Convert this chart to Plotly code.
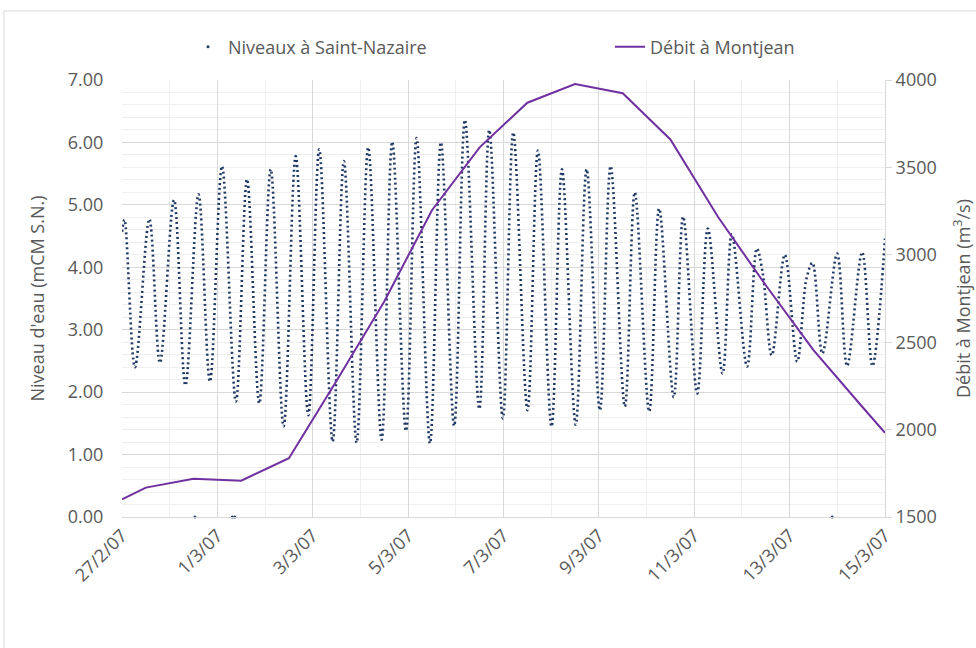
import plotly.graph_objects as go

# ---- Data ----
# Tide level at Saint-Nazaire: successive high / low waters (m CM S.N.)
tide_time = [
    "2007-02-27 00:00", "2007-02-27 01:15", "2007-02-27 06:30", "2007-02-27 13:45", "2007-02-27 19:05",
    "2007-02-28 02:10", "2007-02-28 07:55", "2007-02-28 14:30", "2007-02-28 20:15",
    "2007-03-01 02:20", "2007-03-01 09:20", "2007-03-01 14:55", "2007-03-01 21:05",
    "2007-03-02 02:50", "2007-03-02 09:20", "2007-03-02 15:25", "2007-03-02 21:45",
    "2007-03-03 03:15", "2007-03-03 10:00", "2007-03-03 15:40", "2007-03-03 22:05",
    "2007-03-04 03:55", "2007-03-04 10:40", "2007-03-04 16:00", "2007-03-04 22:55",
    "2007-03-05 04:15", "2007-03-05 11:00", "2007-03-05 16:30", "2007-03-05 23:10",
    "2007-03-06 04:35", "2007-03-06 11:50", "2007-03-06 16:50", "2007-03-06 23:40",
    "2007-03-07 04:55", "2007-03-07 12:05", "2007-03-07 17:20",
    "2007-03-08 00:10", "2007-03-08 05:25", "2007-03-08 12:20", "2007-03-08 17:50",
    "2007-03-09 00:30", "2007-03-09 05:55", "2007-03-09 13:05", "2007-03-09 18:05",
    "2007-03-10 01:20", "2007-03-10 06:20", "2007-03-10 13:40", "2007-03-10 18:25",
    "2007-03-11 01:30", "2007-03-11 06:50", "2007-03-11 14:15", "2007-03-11 18:55",
    "2007-03-12 02:35", "2007-03-12 07:30", "2007-03-12 10:30", "2007-03-12 15:00", "2007-03-12 21:35",
    "2007-03-13 03:50", "2007-03-13 08:30", "2007-03-13 11:30", "2007-03-13 16:30", "2007-03-13 23:55",
    "2007-03-14 04:55", "2007-03-14 12:30", "2007-03-14 17:40", "2007-03-15 00:00",
]
tide_level = [
    4.57, 4.76, 2.40, 4.77, 2.47,
    5.08, 2.11, 5.17, 2.17,
    5.62, 1.85, 5.41, 1.82,
    5.57, 1.45, 5.78, 1.63,
    5.89, 1.21, 5.70, 1.19,
    5.92, 1.24, 6.01, 1.38,
    6.07, 1.18, 6.00, 1.46,
    6.36, 1.73, 6.20, 1.58,
    6.16, 1.71, 5.87,
    1.45, 5.57, 1.48, 5.57,
    1.71, 5.62, 1.77, 5.20,
    1.69, 4.94, 1.92, 4.81,
    1.98, 4.62, 2.30, 4.53,
    2.41, 4.30, 3.90, 2.59, 4.20,
    2.49, 3.82, 4.07, 2.62, 4.22,
    2.42, 4.24, 2.42, 4.46,
]
# isolated zero readings (gaps in the record)
zero_time = ["2007-02-28 12:40", "2007-03-01 07:30", "2007-03-01 08:45", "2007-03-13 21:25"]
zero_level = [0.0, 0.0, 0.0, 0.0]

# River flow at Montjean (m3/s)
flow_time = [
    "2007-02-27 00:00", "2007-02-27 12:00", "2007-02-28 12:00", "2007-03-01 12:00",
    "2007-03-02 12:00", "2007-03-03 12:00", "2007-03-04 12:00", "2007-03-05 12:00",
    "2007-03-06 12:00", "2007-03-07 12:00", "2007-03-08 12:00", "2007-03-09 12:00",
    "2007-03-10 12:00", "2007-03-11 12:00", "2007-03-12 12:00", "2007-03-13 12:00",
    "2007-03-14 12:00", "2007-03-15 00:00",
]
flow_value = [
    1601, 1668, 1719, 1708,
    1836, 2280, 2733, 3255,
    3615, 3870, 3977, 3924,
    3660, 3216, 2826, 2455,
    2138, 1982,
]

left_ticks = [0, 1, 2, 3, 4, 5, 6, 7]
right_ticks = [1500, 2000, 2500, 3000, 3500, 4000]

NAVY = "#1F3864"
PURPLE = "#7030A0"
GRAY = "#595959"
FONT = "Open Sans"
FS = 18

fig = go.Figure()

fig.add_trace(go.Scatter(
    x=tide_time, y=tide_level, mode="lines",
    line=dict(color=NAVY, width=2.6, shape="spline", smoothing=1.0, dash="2px,3px"),
    name="Niveaux à Saint-Nazaire", legendgroup="tide", showlegend=False,
    yaxis="y",
))
fig.add_trace(go.Scatter(
    x=zero_time, y=zero_level, mode="markers",
    marker=dict(color=NAVY, size=3),
    name="Niveaux à Saint-Nazaire", legendgroup="tide", showlegend=True,
    legend="legend", yaxis="y", cliponaxis=False,
))
fig.add_trace(go.Scatter(
    x=flow_time, y=flow_value, mode="lines",
    line=dict(color=PURPLE, width=2),
    name="Débit à Montjean", yaxis="y2", legend="legend2",
))

legend_common = dict(
    orientation="h", xref="container", yref="container",
    y=0.9275, xanchor="left", yanchor="middle",
    font=dict(size=FS, color=GRAY, family=FONT), itemsizing="trace",
    bgcolor="rgba(0,0,0,0)", borderwidth=0,
)

fig.update_layout(
    width=976, height=648,
    margin=dict(l=122, r=91, t=80, b=131, autoexpand=False),
    paper_bgcolor="white", plot_bgcolor="white",
    font=dict(family=FONT, color=GRAY, size=FS),
    showlegend=True,
    legend=dict(x=188 / 976, **legend_common),
    legend2=dict(x=610 / 976, **legend_common),
    xaxis=dict(
        type="date", range=["2007-02-27", "2007-03-15"],
        tick0="2007-02-27", dtick=2 * 86400000, tickformat="%-d/%-m/%y",
        tickangle=-45, tickfont=dict(size=FS, color=GRAY),
        showgrid=True, gridcolor="#D9D9D9", gridwidth=1,
        minor=dict(dtick=86400000, showgrid=True, gridcolor="#EFEFEF"),
        showline=True, linecolor="#D9D9D9", linewidth=1,
        zeroline=False, ticks="", automargin=False,
    ),
    yaxis=dict(
        range=[0, 7], tickvals=left_ticks, tickformat=".2f",
        tickfont=dict(size=FS, color=GRAY),
        showgrid=True, gridcolor="#D9D9D9", gridwidth=1,
        minor=dict(dtick=0.2, showgrid=True, gridcolor="#EFEFEF"),
        zeroline=False, showline=False,
        ticks="outside", ticklen=14, tickcolor="rgba(0,0,0,0)",
        title=dict(text="Niveau d'eau (mCM S.N.)", font=dict(size=FS, color=GRAY), standoff=18),
        automargin=False,
    ),
    yaxis2=dict(
        range=[1500, 4000], tickvals=right_ticks, overlaying="y", side="right",
        tickfont=dict(size=FS, color=GRAY),
        showgrid=False, zeroline=False,
        showline=True, linecolor="#D9D9D9", linewidth=1,
        ticks="outside", ticklen=6, tickcolor="#D9D9D9",
        title=dict(text="Débit à Montjean (m<sup>3</sup>/s)", font=dict(size=FS, color=GRAY), standoff=21),
        automargin=False,
    ),
    shapes=[dict(
        type="rect", xref="paper", yref="paper",
        x0=-0.1547, x1=1.13, y0=-0.32, y1=1.158,
        line=dict(color="#D9D9D9", width=1), fillcolor="rgba(0,0,0,0)", layer="below",
    )],
)

fig.write_html(
    "out.html",
    config={"displayModeBar": False},
    post_script="document.body.style.margin='0';",
)
